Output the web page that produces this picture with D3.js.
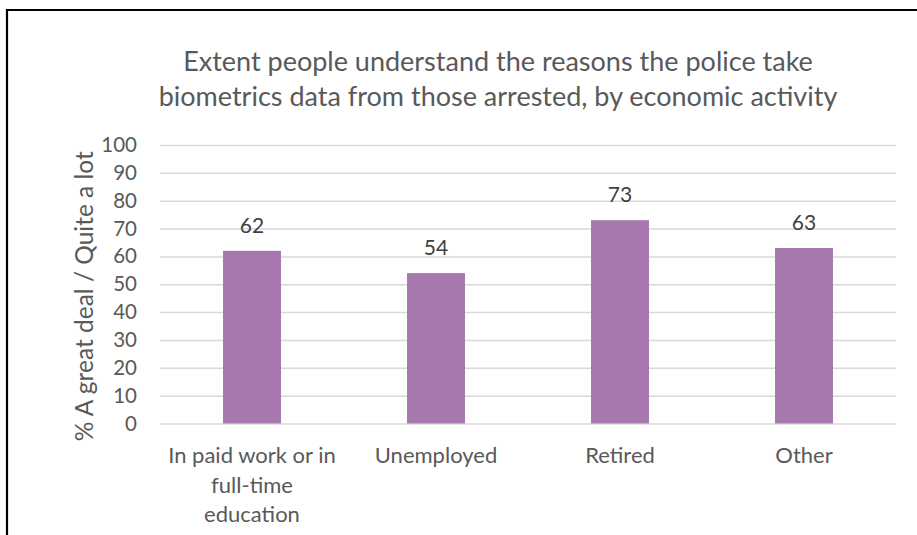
<!DOCTYPE html>
<html>
<head>
<meta charset="utf-8">
<script src="https://cdn.jsdelivr.net/npm/d3@7"></script>
<style>
  html, body { margin: 0; padding: 0; background: #fff; }
  svg { display: block; font-family: Lato, "Open Sans", sans-serif; }
</style>
</head>
<body>
<svg id="chart" width="917" height="535"></svg>
<script>
// Survey result by economic activity
const categories = [
  "In paid work or in full-time education",
  "Unemployed",
  "Retired",
  "Other"
];
// Wrapped category label lines
const categoryLines = [
  ["In paid work or in", "full-time", "education"],
  ["Unemployed"],
  ["Retired"],
  ["Other"]
];
const values = [62, 54, 73, 63];
const yTicks = [0, 10, 20, 30, 40, 50, 60, 70, 80, 90, 100];
const titleLines = [
  "Extent people understand the reasons the police take",
  "biometrics data from those arrested, by economic activity"
];
const yAxisTitle = "% A great deal / Quite a lot";

const svg = d3.select("#chart");
const textColor = "#595959";
const barColor = "#A678AE";
const gridColor = "#D9D9D9";

const plot = { left: 160, right: 896, top: 145, bottom: 423.5 };

// Outer frame (top and left edges visible)
svg.append("path")
  .attr("d", "M7,535 V10 H917")
  .attr("fill", "none")
  .attr("stroke", "#000")
  .attr("stroke-width", 2.2);

const x = d3.scaleBand()
  .domain(categories)
  .range([plot.left, plot.right])
  .paddingInner(0.685)
  .paddingOuter(0.3425);

const y = d3.scaleLinear()
  .domain([0, 100])
  .range([plot.bottom, plot.top]);

// Title
svg.append("text")
  .attr("x", 498)
  .attr("y", 71)
  .attr("text-anchor", "middle")
  .attr("fill", textColor)
  .attr("font-size", 27)
  .selectAll("tspan")
  .data(titleLines)
  .join("tspan")
  .attr("x", 498)
  .attr("dy", (d, i) => i === 0 ? 0 : 34.5)
  .text(d => d);

// Y axis with full-width gridlines
const yAxis = d3.axisLeft(y)
  .tickValues(yTicks)
  .tickSize(-(plot.right - plot.left))
  .tickPadding(23);

const yG = svg.append("g")
  .attr("transform", `translate(${plot.left},0)`)
  .call(yAxis);
yG.select(".domain").remove();
yG.selectAll(".tick line")
  .attr("stroke", gridColor)
  .attr("stroke-width", 1.5);
yG.selectAll(".tick text")
  .attr("fill", textColor)
  .attr("font-size", 20.5)
  .attr("font-family", "Lato, sans-serif");

// Y axis title
svg.append("text")
  .attr("transform", `translate(93,${(plot.top + plot.bottom) / 2 + 12}) rotate(-90)`)
  .attr("text-anchor", "middle")
  .attr("fill", textColor)
  .attr("font-size", 24.5)
  .text(yAxisTitle);

// Bars
svg.append("g")
  .selectAll("rect")
  .data(values)
  .join("rect")
  .attr("x", (d, i) => x(categories[i]))
  .attr("width", x.bandwidth())
  .attr("y", d => y(d))
  .attr("height", d => y(0) - y(d))
  .attr("fill", barColor);

// Value labels
svg.append("g")
  .selectAll("text")
  .data(values)
  .join("text")
  .attr("x", (d, i) => x(categories[i]) + x.bandwidth() / 2)
  .attr("y", d => y(d) - 18)
  .attr("text-anchor", "middle")
  .attr("fill", "#404040")
  .attr("font-size", 21)
  .text(d => d);

// Category labels
const xG = svg.append("g");
categoryLines.forEach((lines, i) => {
  const cx = x(categories[i]) + x.bandwidth() / 2;
  const t = xG.append("text")
    .attr("text-anchor", "middle")
    .attr("fill", textColor)
    .attr("font-size", 22);
  lines.forEach((line, j) => {
    t.append("tspan")
      .attr("x", cx)
      .attr("y", 463 + j * 29.5)
      .text(line);
  });
});
</script>
</body>
</html>
